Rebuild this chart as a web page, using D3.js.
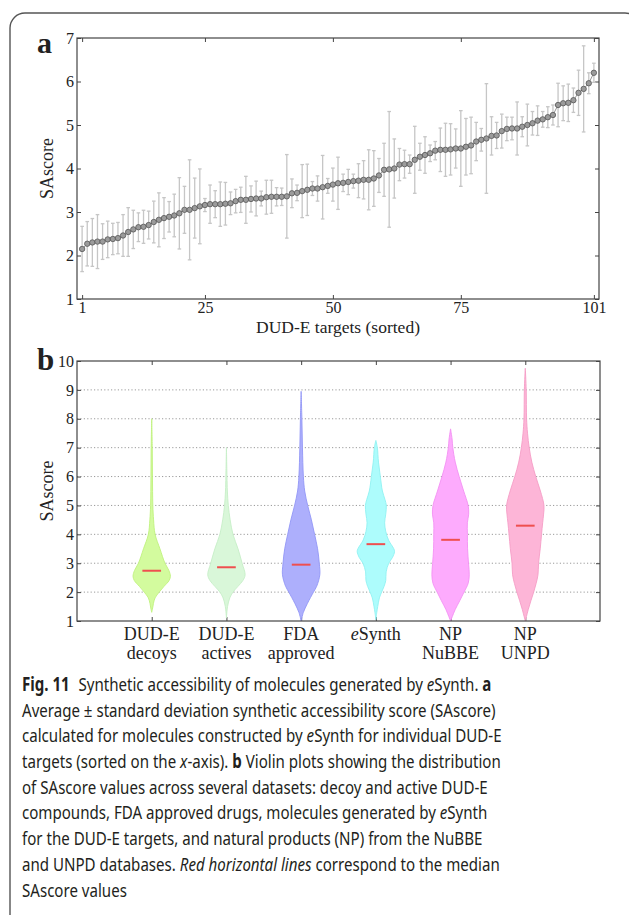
<!DOCTYPE html>
<html>
<head>
<meta charset="utf-8">
<script src="https://cdn.jsdelivr.net/npm/d3@7"></script>
<style>
  body { margin: 0; background: #fff; }
  svg { display: block; }
  .serif { font-family: "Liberation Serif", "Times New Roman", serif; fill: #222; }
  .caption { font-family: "Noto Sans", "Open Sans", sans-serif; fill: #231f20; white-space: pre; }
</style>
</head>
<body>
<svg id="fig" width="629" height="915"></svg>
<script>
// ---- panel a: mean and sd of SAscore per DUD-E target (sorted)
const targetMeans = [
  2.15, 2.27, 2.30, 2.32, 2.32, 2.37, 2.38, 2.40, 2.46, 2.54,
  2.60, 2.65, 2.66, 2.70, 2.77, 2.82, 2.86, 2.89, 2.92, 2.97,
  3.05, 3.05, 3.09, 3.13, 3.16, 3.18, 3.18, 3.18, 3.19, 3.20,
  3.25, 3.28, 3.28, 3.30, 3.31, 3.31, 3.34, 3.35, 3.35, 3.35,
  3.36, 3.43, 3.44, 3.48, 3.51, 3.54, 3.54, 3.57, 3.60, 3.63,
  3.66, 3.67, 3.69, 3.71, 3.72, 3.74, 3.74, 3.77, 3.84, 3.97,
  3.98, 4.00, 4.09, 4.10, 4.10, 4.20, 4.27, 4.31, 4.35, 4.41,
  4.43, 4.43, 4.44, 4.46, 4.46, 4.50, 4.53, 4.62, 4.66, 4.69,
  4.75, 4.76, 4.86, 4.91, 4.92, 4.92, 4.96, 5.00, 5.04, 5.10,
  5.13, 5.18, 5.23, 5.46, 5.50, 5.51, 5.57, 5.74, 5.83, 5.96,
  6.20
];
const targetSD = [
  0.52, 0.51, 0.55, 0.62, 0.41, 0.42, 0.36, 0.36, 0.48, 0.56,
  0.44, 0.33, 0.38, 0.32, 0.48, 0.62, 0.47, 0.35, 0.49, 0.82,
  0.54, 1.15, 0.69, 0.86, 0.15, 0.44, 0.31, 0.51, 0.49, 0.26,
  0.27, 0.29, 0.54, 0.30, 0.40, 0.17, 0.39, 0.38, 0.21, 0.20,
  0.96, 0.33, 0.18, 0.61, 0.59, 0.16, 0.29, 0.73, 0.17, 0.38,
  0.60, 0.20, 0.29, 0.16, 0.39, 0.44, 0.69, 0.64, 0.39, 0.61,
  1.33, 0.68, 0.37, 0.32, 0.21, 0.77, 0.31, 0.42, 0.19, 0.21,
  0.50, 0.61, 0.59, 0.45, 0.87, 0.65, 0.65, 0.44, 0.26, 1.26,
  0.44, 0.30, 0.39, 0.27, 0.26, 0.61, 0.23, 0.48, 0.27, 0.34,
  0.18, 0.24, 0.23, 0.50, 0.40, 0.43, 0.28, 0.52, 0.99, 0.24,
  0.22
];
const xTicksA = [1, 25, 50, 75, 101];
const yTicksA = [1, 2, 3, 4, 5, 6, 7];

// ---- panel b: violin outlines [SAscore, relative half width] and medians
const violinLabels = [
  ['DUD-E', 'decoys'], ['DUD-E', 'actives'], ['FDA', 'approved'],
  ['eSynth'], ['NP', 'NuBBE'], ['NP', 'UNPD']
];
const violinMedians = [2.74, 2.86, 2.95, 3.66, 3.81, 4.30];
const decoysShape = [[8.0,0],[7,0.03],[6,0.04],[5,0.06],[4.5,0.1],[4,0.18],[3.5,0.44],[3,0.71],[2.75,0.92],[2.55,1],[2.4,0.93],[2.2,0.66],[2,0.4],[1.8,0.18],[1.6,0.09],[1.45,0.05],[1.3,0]];
const activesShape = [[7.0,0],[6,0.03],[5.5,0.05],[5,0.1],[4.5,0.2],[4,0.35],[3.5,0.62],[3,0.84],[2.6,1],[2.4,0.88],[2.2,0.62],[2,0.35],[1.8,0.18],[1.5,0.06],[1.1,0]];
const fdaShape = [[8.95,0],[8,0.04],[7,0.07],[6,0.12],[5.5,0.19],[5,0.35],[4.5,0.55],[4,0.72],[3.5,0.88],[3,0.97],[2.6,1],[2.2,0.83],[2,0.66],[1.6,0.33],[1.3,0.12],[1.0,0]];
const esynthShape = [[7.25,0],[7,0.08],[6.5,0.14],[6,0.24],[5.5,0.35],[5.2,0.49],[5,0.56],[4.7,0.53],[4.4,0.47],[4.1,0.53],[3.8,0.68],[3.5,0.96],[3.4,1],[3.2,0.89],[3,0.69],[2.7,0.55],[2.4,0.53],[2.2,0.44],[2,0.31],[1.8,0.19],[1.5,0.1],[1.3,0.05],[1.05,0]];
const nubbeShape = [[7.65,0],[7.3,0.08],[7,0.12],[6.5,0.25],[6,0.46],[5.5,0.7],[5,0.94],[4.7,0.97],[4.4,0.9],[4,0.9],[3.5,0.91],[3,0.96],[2.6,1],[2.3,0.94],[2,0.72],[1.7,0.49],[1.4,0.25],[1.15,0.09],[1,0]];
const unpdShape = [[9.75,0],[9,0.05],[8,0.07],[7.5,0.12],[7,0.21],[6.5,0.35],[6,0.56],[5.5,0.81],[5,1],[4.7,0.98],[4.4,0.93],[4,0.87],[3.5,0.8],[3,0.71],[2.6,0.68],[2.3,0.58],[2,0.45],[1.7,0.3],[1.4,0.16],[1.15,0.06],[1,0]];
const violinShapes = [decoysShape, activesShape, fdaShape, esynthShape, nubbeShape, unpdShape];
const violinFill = ['#d3fb9e', '#d9f7d9', '#adaffc', '#adfcfc', '#fdabfd', '#fdb5d7'];
const violinEdge = ['#c0f27e', '#c6eec7', '#9296f6', '#90f2f2', '#f391f3', '#f59dc6'];
const yTicksB = [1, 2, 3, 4, 5, 6, 7, 8, 9, 10];
const gridB = [2, 3, 4, 5, 6, 7, 8, 9];

const frameColor = '#444';
const tickLen = 4;

const svg = d3.select('#fig');

// outer rounded box of the figure
svg.append('rect')
  .attr('x', 10).attr('y', 13)
  .attr('width', 630).attr('height', 930)
  .attr('rx', 15)
  .attr('fill', 'none')
  .attr('stroke', '#555')
  .attr('stroke-width', 1.4);

function styleAxis(g) {
  g.select('.domain').remove();
  g.selectAll('line').attr('stroke', frameColor);
  g.selectAll('text')
    .attr('class', 'serif')
    .attr('fill', '#222')
    .style('font-size', '16px');
}

// ================= panel a =================
const pa = { left: 77, right: 599, top: 38, bottom: 299 };
const xA = d3.scaleLinear().domain([0, 102]).range([pa.left, pa.right]);
const yA = d3.scaleLinear().domain([1, 7]).range([pa.bottom, pa.top]);

const gA = svg.append('g');

gA.append('g')
  .attr('transform', `translate(${pa.left},0)`)
  .call(d3.axisLeft(yA).tickValues(yTicksA).tickSize(-tickLen).tickPadding(3).tickFormat(d3.format('d')))
  .call(styleAxis);
gA.append('g')
  .attr('transform', `translate(${pa.right},0)`)
  .call(d3.axisRight(yA).tickValues(yTicksA).tickSize(-tickLen).tickFormat(''))
  .call(styleAxis);
gA.append('g')
  .attr('transform', `translate(0,${pa.bottom})`)
  .call(d3.axisBottom(xA).tickValues(xTicksA).tickSize(-tickLen).tickPadding(2.5).tickFormat(d3.format('d')))
  .call(styleAxis);
gA.append('g')
  .attr('transform', `translate(0,${pa.top})`)
  .call(d3.axisTop(xA).tickValues(xTicksA).tickSize(-tickLen).tickFormat(''))
  .call(styleAxis);

// error bars
const bars = gA.append('g')
  .selectAll('g')
  .data(targetMeans)
  .enter()
  .append('g')
  .attr('stroke', '#c6c6c6')
  .attr('stroke-width', 1.3);
bars.append('line')
  .attr('x1', (d, i) => xA(i + 1)).attr('x2', (d, i) => xA(i + 1))
  .attr('y1', (d, i) => yA(d - targetSD[i])).attr('y2', (d, i) => yA(d + targetSD[i]));
bars.append('line')
  .attr('x1', (d, i) => xA(i + 1) - 1.8).attr('x2', (d, i) => xA(i + 1) + 1.8)
  .attr('y1', (d, i) => yA(d + targetSD[i])).attr('y2', (d, i) => yA(d + targetSD[i]));
bars.append('line')
  .attr('x1', (d, i) => xA(i + 1) - 1.8).attr('x2', (d, i) => xA(i + 1) + 1.8)
  .attr('y1', (d, i) => yA(d - targetSD[i])).attr('y2', (d, i) => yA(d - targetSD[i]));

// connecting line and markers
gA.append('path')
  .datum(targetMeans)
  .attr('fill', 'none')
  .attr('stroke', '#7a7a7a')
  .attr('stroke-width', 0.8)
  .attr('d', d3.line().x((d, i) => xA(i + 1)).y(d => yA(d)));
gA.append('g')
  .selectAll('circle')
  .data(targetMeans)
  .enter()
  .append('circle')
  .attr('cx', (d, i) => xA(i + 1))
  .attr('cy', d => yA(d))
  .attr('r', 2.7)
  .attr('fill', '#9b9b9b')
  .attr('stroke', '#555')
  .attr('stroke-width', 0.8);

gA.append('rect')
  .attr('x', pa.left).attr('y', pa.top)
  .attr('width', pa.right - pa.left).attr('height', pa.bottom - pa.top)
  .attr('fill', 'none').attr('stroke', frameColor).attr('stroke-width', 1.2);

gA.append('text')
  .attr('class', 'serif')
  .attr('transform', `translate(53,${(pa.top + pa.bottom) / 2}) rotate(-90)`)
  .attr('text-anchor', 'middle')
  .style('font-size', '18px')
  .text('SAscore');
gA.append('text')
  .attr('class', 'serif')
  .attr('x', (pa.left + pa.right) / 2).attr('y', 332.5)
  .attr('text-anchor', 'middle')
  .style('font-size', '17.5px')
  .text('DUD-E targets (sorted)');
gA.append('text')
  .attr('class', 'serif')
  .attr('x', 37).attr('y', 53)
  .style('font-size', '30px').style('font-weight', 'bold')
  .text('a');

// ================= panel b =================
const pb = { left: 77, right: 600, top: 361, bottom: 621 };
const xB = d3.scaleLinear().domain([0, 7]).range([pb.left, pb.right]);
const yB = d3.scaleLinear().domain([1, 10]).range([pb.bottom, pb.top]);
const halfW = d3.scaleLinear().domain([0, 1]).range([0, xB(0.25) - xB(0)]);

const gB = svg.append('g');

gB.append('g')
  .selectAll('line')
  .data(gridB)
  .enter()
  .append('line')
  .attr('x1', pb.left).attr('x2', pb.right)
  .attr('y1', d => yB(d)).attr('y2', d => yB(d))
  .attr('stroke', '#9a9a9a')
  .attr('stroke-width', 1)
  .attr('stroke-dasharray', '1.2,2.2');

gB.append('g')
  .attr('transform', `translate(${pb.left},0)`)
  .call(d3.axisLeft(yB).tickValues(yTicksB).tickSize(-tickLen).tickPadding(3).tickFormat(d3.format('d')))
  .call(styleAxis);
gB.append('g')
  .attr('transform', `translate(${pb.right},0)`)
  .call(d3.axisRight(yB).tickValues(yTicksB).tickSize(-tickLen).tickFormat(''))
  .call(styleAxis);
gB.append('g')
  .attr('transform', `translate(0,${pb.bottom})`)
  .call(d3.axisBottom(xB).tickValues(d3.range(1, 7)).tickSize(-tickLen).tickFormat(''))
  .call(styleAxis);
gB.append('g')
  .attr('transform', `translate(0,${pb.top})`)
  .call(d3.axisTop(xB).tickValues(d3.range(1, 7)).tickSize(-tickLen).tickFormat(''))
  .call(styleAxis);

violinShapes.forEach((shape, i) => {
  const cx = xB(i + 1);
  const area = d3.area()
    .y(d => yB(d[0]))
    .x0(d => cx - halfW(d[1]))
    .x1(d => cx + halfW(d[1]))
    .curve(d3.curveCatmullRom.alpha(0.5));
  gB.append('path')
    .datum(shape)
    .attr('d', area)
    .attr('fill', violinFill[i])
    .attr('stroke', violinEdge[i])
    .attr('stroke-width', 0.9);
});

gB.append('g')
  .selectAll('line')
  .data(violinMedians)
  .enter()
  .append('line')
  .attr('x1', (d, i) => xB(i + 1) - halfW(0.5))
  .attr('x2', (d, i) => xB(i + 1) + halfW(0.5))
  .attr('y1', d => yB(d)).attr('y2', d => yB(d))
  .attr('stroke', '#ef4f4f')
  .attr('stroke-width', 2);

gB.append('rect')
  .attr('x', pb.left).attr('y', pb.top)
  .attr('width', pb.right - pb.left).attr('height', pb.bottom - pb.top)
  .attr('fill', 'none').attr('stroke', frameColor).attr('stroke-width', 1.2);

// category labels, two lines each
const catText = gB.append('g')
  .selectAll('text')
  .data(violinLabels)
  .enter()
  .append('text')
  .attr('class', 'serif')
  .attr('text-anchor', 'middle')
  .style('font-size', '18px');
catText.each(function(lines, i) {
  const t = d3.select(this);
  lines.forEach((line, k) => {
    const ts = t.append('tspan')
      .attr('x', xB(i + 1))
      .attr('y', 640 + k * 19);
    if (line === 'eSynth') {
      ts.append('tspan').style('font-style', 'italic').text('e');
      ts.append('tspan').text('Synth');
    } else {
      ts.text(line);
    }
  });
});

gB.append('text')
  .attr('class', 'serif')
  .attr('transform', `translate(53,${(pb.top + pb.bottom) / 2}) rotate(-90)`)
  .attr('text-anchor', 'middle')
  .style('font-size', '18px')
  .text('SAscore');
gB.append('text')
  .attr('class', 'serif')
  .attr('x', 37).attr('y', 370)
  .style('font-size', '31px').style('font-weight', 'bold')
  .text('b');

// ================= caption =================
const captionLines = [
  [{ t: 'Fig. 11', s: 'b' }, { t: 'Synthetic accessibility of molecules generated by ', dx: 11 }, { t: 'e', s: 'i' }, { t: 'Synth. ' }, { t: 'a', s: 'b' }],
  [{ t: 'Average \u00b1 standard deviation synthetic accessibility score (SAscore)' }],
  [{ t: 'calculated for molecules constructed by ' }, { t: 'e', s: 'i' }, { t: 'Synth for individual DUD-E' }],
  [{ t: 'targets (sorted on the ' }, { t: 'x', s: 'i' }, { t: '-axis). ' }, { t: 'b', s: 'b' }, { t: ' Violin plots showing the distribution' }],
  [{ t: 'of SAscore values across several datasets: decoy and active DUD-E' }],
  [{ t: 'compounds, FDA approved drugs, molecules generated by ' }, { t: 'e', s: 'i' }, { t: 'Synth' }],
  [{ t: 'for the DUD-E targets, and natural products (NP) from the NuBBE' }],
  [{ t: 'and UNPD databases. ' }, { t: 'Red horizontal lines', s: 'i' }, { t: ' correspond to the median' }],
  [{ t: 'SAscore values' }]
];

const capG = svg.append('g');
const capText = capG.selectAll('text')
  .data(captionLines)
  .enter()
  .append('text')
  .attr('class', 'caption')
  .attr('x', 0)
  .attr('y', (d, i) => 691 + i * 25.7)
  .style('font-size', '19px');
capText.each(function(segs) {
  const t = d3.select(this);
  segs.forEach(seg => {
    const ts = t.append('tspan').text(seg.t);
    if (seg.dx) ts.attr('dx', seg.dx);
    if (seg.s === 'b') ts.style('font-weight', 'bold');
    if (seg.s === 'i') ts.style('font-style', 'italic');
  });
});
// squeeze to the condensed width of the printed caption
const refWidth = capText.filter((d, i) => i === 2).node().getComputedTextLength();
const sx = 480 / refWidth;
capG.attr('transform', `translate(22,0) scale(${sx},1)`);
</script>
</body>
</html>
